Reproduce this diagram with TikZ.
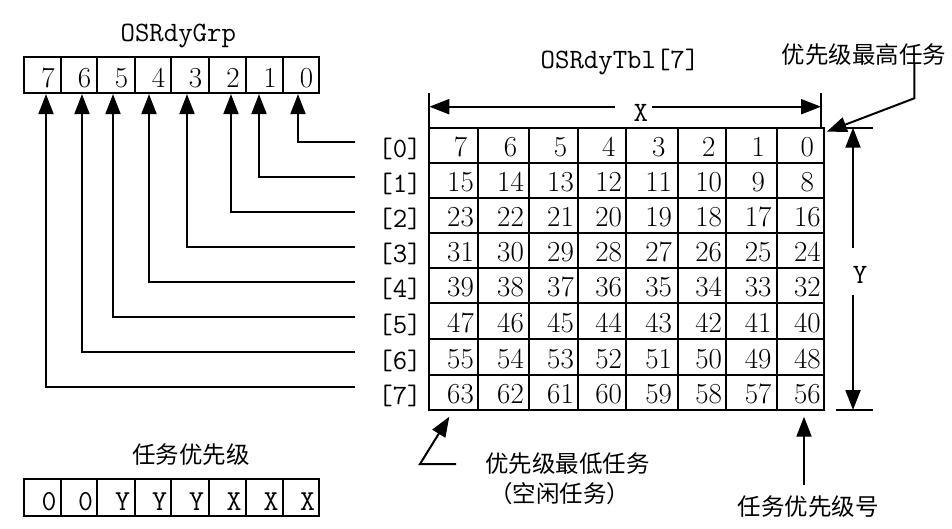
\documentclass[tikz,border=0pt]{standalone}
\usepackage{fontspec}
\newfontfamily\cjk{Noto Sans CJK SC}
\usetikzlibrary{arrows.meta}
\tikzset{
  ln/.style={line width=2pt},
  arr/.style={line width=2pt,-{Triangle[length=20pt,width=15pt]}},
  boxln/.style={line width=2.2pt},
  ttl/.style={font=\ttfamily\fontsize{28}{30}\selectfont, inner sep=0pt, anchor=base},
  ttb/.style={font=\ttfamily\fontsize{29}{30}\selectfont, inner sep=0pt, anchor=base},
  numtxt/.style={font=\fontsize{29}{30}\selectfont, inner sep=0pt, anchor=base},
  zh/.style={font=\cjk\fontsize{23.5}{26}\selectfont, inner sep=0pt},
}
\begin{document}
\begin{tikzpicture}[x=1pt,y=-1pt]
\fill[white] (0,0) rectangle (952,528);
\useasboundingbox (0,0) rectangle (952,528);
\def\bitx{{24,61,97,135,171,209,246,283,319}}
\def\colx{{429.3,477.7,529.3,577.7,625.7,677.7,725.7,776.7,824}}
\def\rowy{{127.7,163.3,198.3,233.3,268.3,303.3,339.3,375,410}}

% ---------- OSRdyGrp ----------
\node[ttl] (grp) at (178.3,41.7) {OSRdyGrp};
\foreach \k in {0,...,7}{
  \pgfmathsetmacro\xl{\bitx[\k]}
  \pgfmathsetmacro\xr{\bitx[\k+1]}
  \pgfmathtruncatemacro\bit{7-\k}
  \node[boxln,draw,minimum width={\xr-\xl}, minimum height=36, inner sep=0pt] (gc\bit) at ({(\xl+\xr)/2},75) {};
  \node[numtxt] (g\bit) at ({(\xl+\xr)/2+5.5},87.3) {\bit};
}
% connectors from rows to bits
\foreach \b/\d in {0/-3,1/-5.5,2/3.5,3/-3,4/-4,5/-3,6/3,7/3.5}{
  \pgfmathsetmacro\yy{141.7+35*\b}
  \coordinate (r\b) at (355,\yy);
  \draw[arr] (r\b) -| ([xshift=\d pt]gc\b.south);
}

% ---------- row labels ----------
\foreach \r in {0,...,7}{
  \pgfmathsetmacro\yb{\rowy[\r+1]-6}
  \node[ttl] (lab\r) at (400,\yb) {[\r]};
}

% ---------- table ----------
\node[ttl] (tbl) at (620,68.3) {OSRdyTbl[7]};
\foreach \k in {0,...,8}{
  \pgfmathsetmacro\xx{\colx[\k]}
  \draw[boxln] (\xx,127.7) -- (\xx,410);
}
\foreach \k in {0,...,8}{
  \pgfmathsetmacro\yy{\rowy[\k]}
  \draw[boxln,line cap=rect] (429.3,\yy) -- (824,\yy);
}
\foreach \r in {0,...,7}{
  \foreach \c in {0,...,7}{
    \pgfmathsetmacro\xl{\colx[\c]}
    \pgfmathsetmacro\xr{\colx[\c+1]}
    \pgfmathsetmacro\yb{\rowy[\r+1]-7}
    \pgfmathtruncatemacro\v{8*\r+7-\c}
    \node[numtxt] (n\r\c) at ({(\xl+\xr)/2+7},\yb) {\v};
  }
}

% ---------- X dimension ----------
\draw[ln] (429.3,93) -- (429.3,127.7);
\draw[ln] (821,93) -- (821,127.7);
\node[ttl] (X) at (640.8,121.7) {X};
\coordinate (xa) at (615,106.7);
\coordinate (xb) at (651.7,106.7);
\coordinate (xl) at (429.3,106.7);
\coordinate (xr) at (821,106.7);
\draw[arr] (xa) -- (xl);
\draw[arr] (xb) -- (xr);

% ---------- Y dimension ----------
\draw[ln] (841.7,127.7) -- (873.3,127.7);
\draw[ln] (836,410) -- (873,410);
\node[ttl] (Y) at (860,283) {Y};
\coordinate (ya) at (853,248);
\coordinate (yb) at (853,295);
\coordinate (yt) at (853,127.7);
\coordinate (ybt) at (853,410);
\draw[arr] (ya) -- (yt);
\draw[arr] (yb) -- (ybt);

% ---------- highest priority ----------
\node[zh] (hi) at (864.2,55) {优先级最高任务};
\coordinate (hia) at (914.3,63.3);
\coordinate (hib) at (914.3,98.3);
\coordinate (hit) at (826.7,131.7);
\draw[arr] (hia) -- (hib) -- (hit);

% ---------- lowest priority ----------
\node[zh,anchor=west] (low1) at (485,463.3) {优先级最低任务};
\node[zh,anchor=west] (low2) at (489,493.3) {（空闲任务）};
\coordinate (lwa) at (456,464);
\coordinate (lwb) at (420,464);
\coordinate (lwt) at (449.3,416.7);
\draw[arr] (lwa) -- (lwb) -- (lwt);

% ---------- priority number ----------
\node[zh] (pn) at (808.3,506.7) {任务优先级号};
\coordinate (pna) at (804,485);
\coordinate (pnt) at (804,416.7);
\draw[arr] (pna) -- (pnt);

% ---------- task priority box ----------
\node[zh] (tp) at (191,455) {任务优先级};
\foreach \k/\t in {0/0,1/0,2/Y,3/Y,4/Y,5/X,6/X,7/X}{
  \pgfmathsetmacro\xl{\bitx[\k]}
  \pgfmathsetmacro\xr{\bitx[\k+1]}
  \node[boxln,draw,minimum width={\xr-\xl}, minimum height=36.7, inner sep=0pt] (pc\k) at ({(\xl+\xr)/2},497.65) {};
  \node[ttb] (p\k) at ({(\xl+\xr)/2+6.5},510) {\t};
}
\end{tikzpicture}
\end{document}
